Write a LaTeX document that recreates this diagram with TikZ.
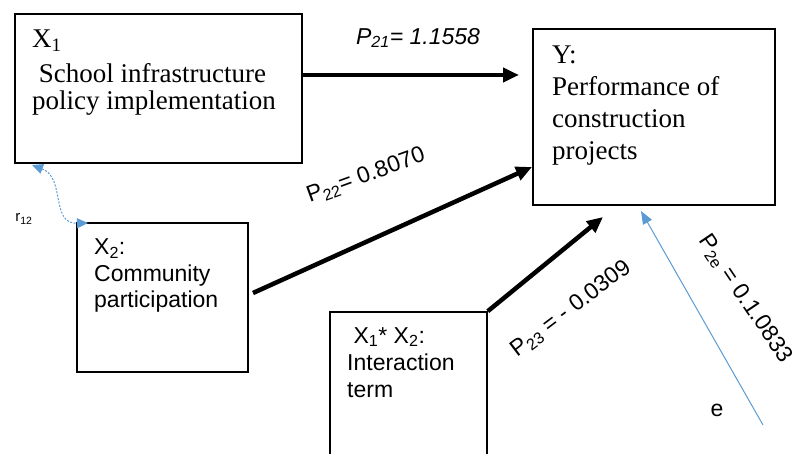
\documentclass[tikz,border=0pt]{standalone}
\usepackage{fontspec}
\setmainfont{Liberation Serif}
\setsansfont{Liberation Sans}
\usetikzlibrary{arrows.meta}
\definecolor{pathblue}{RGB}{91,155,213}

\begin{document}
\begin{tikzpicture}[x=1pt,y=-1pt,
	box/.style={draw,line width=1.6pt,inner sep=0pt},
	serif/.style={anchor=base west,align=left,inner sep=0pt,font=\fontsize{27}{27}\selectfont},
	sans/.style={anchor=base west,align=left,inner sep=0pt,font=\sffamily\fontsize{23}{26.5}\selectfont},
	coef/.style={inner sep=0pt,font=\sffamily\fontsize{23}{26}\selectfont},
	bigarrow/.style={line width=4.5pt,-{Triangle[length=16pt,width=14pt]}},
	bluearrow/.style={pathblue,line width=1pt,-{Triangle[length=13pt,width=10pt]}}]
				\useasboundingbox (0,0) rectangle (798,454);
				\node[box,minimum width=287pt,minimum height=149pt] (x1) at (158.5,88.5) {};
				\node[box,minimum width=242pt,minimum height=176pt] (y) at (654,117) {};
				\node[box,minimum width=171pt,minimum height=149pt] (x2) at (162.5,297.5) {};
				\node[box,minimum width=157pt,minimum height=158pt] (x12) at (408.5,391) {};
				\node[serif] (x1txt) at (32,110) {X\textsubscript{1}\\[8pt]\ School infrastructure\\policy implementation};
				\node[serif,font=\fontsize{27}{32}\selectfont] (ytxt) at (552,160) {Y:\\Performance of\\construction\\projects};
				\node[sans] (x2txt) at (94,308) {X\textsubscript{2}:\\Community\\participation};
				\node[sans,font=\sffamily\fontsize{23}{27}\selectfont] (x12txt) at (347,397) {\ X\textsubscript{1}* X\textsubscript{2}:\\Interaction\\term};
				\coordinate (p21end) at (519,75);
				\coordinate (p22start) at (253,293);
				\coordinate (p22end) at (532,167);
				\coordinate (p23end) at (603,217);
				\coordinate (p2estart) at (763,425);
				\coordinate (p2eend) at (641,211);
				\coordinate (r12top) at (32,165);
				\coordinate (r12bot) at (88,223);
				\draw[bigarrow] (x1.east |- p21end) -- (p21end);
				\draw[bigarrow] (p22start) -- (p22end);
				\draw[bigarrow] (x12.north east) -- (p23end);
				\draw[bluearrow] (p2estart) -- (p2eend);
				\draw[pathblue,line width=1pt,dash pattern=on 2pt off 1.5pt,{Triangle[length=11pt,width=10pt]}-{Triangle[length=11pt,width=10pt]}] (r12top) .. controls (66,178) and (50,224) .. (r12bot);
				\node[coef] (p21) at (418,38) {\itshape P\textsubscript{21}= 1.1558};
				\node[coef,rotate=20] (p22) at (366,176) {P\textsubscript{22}= 0.8070};
				\node[coef,rotate=37] (p23) at (571,309) {P\textsubscript{23} = - 0.0309};
				\node[coef,rotate=-56] (p2e) at (745,299) {P\textsubscript{2e} = 0.1.0833};
				\node[coef] (e) at (717,410) {e};
				\node[coef,font=\sffamily\fontsize{15}{15}\selectfont] (r12) at (24,219) {r\textsubscript{12}};
			\end{tikzpicture}
\end{document}
